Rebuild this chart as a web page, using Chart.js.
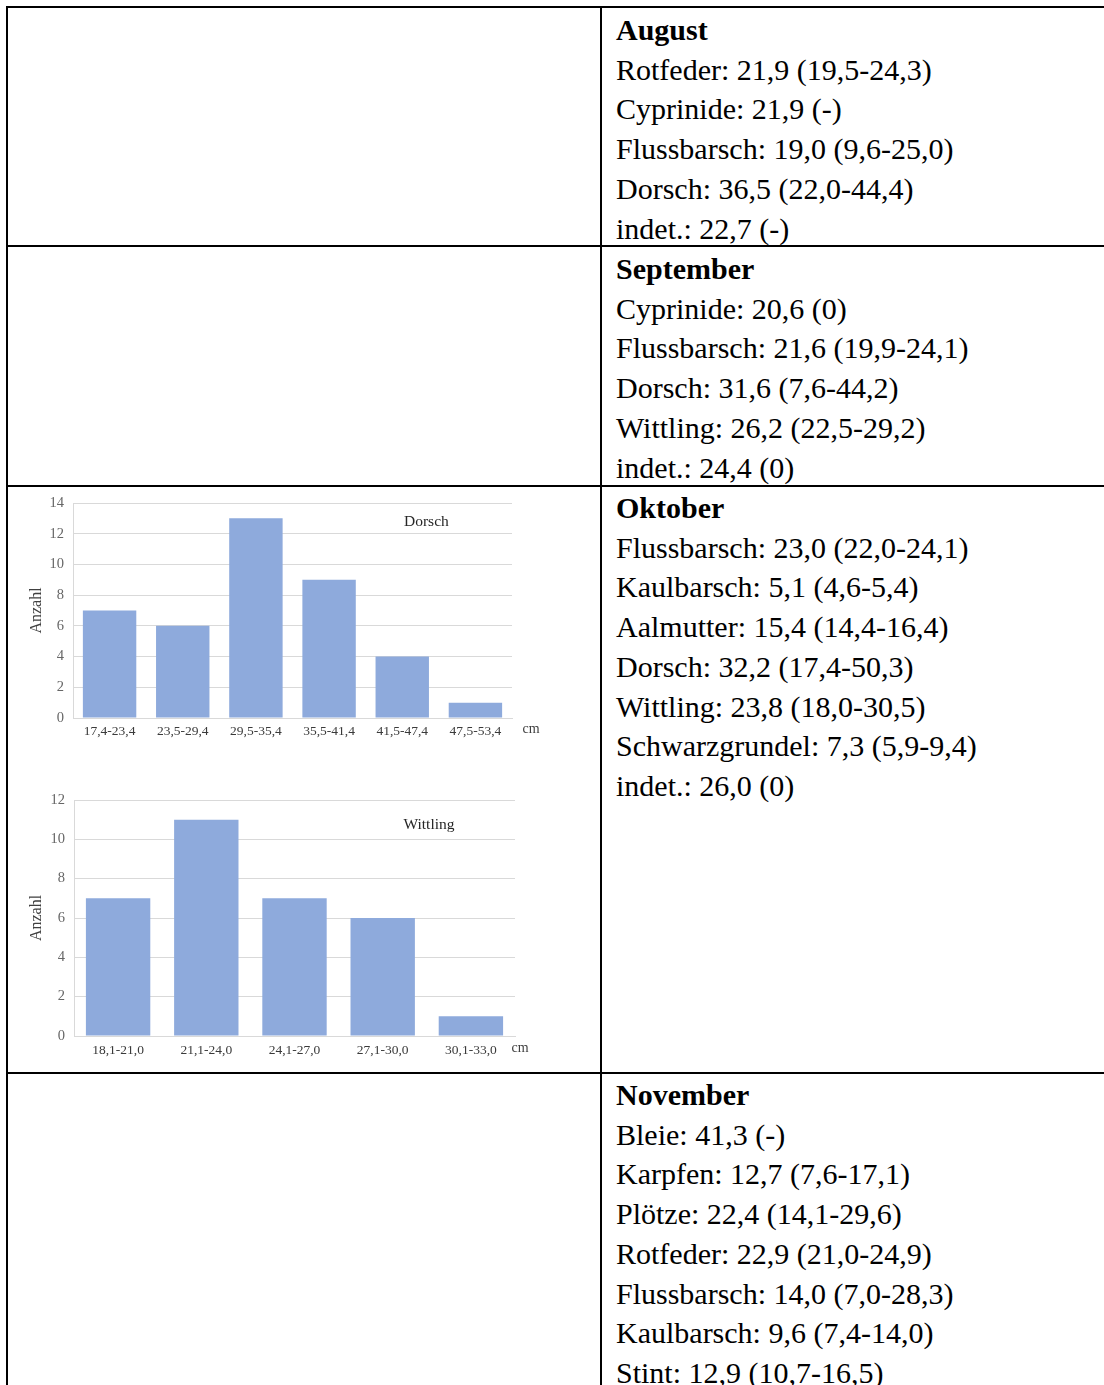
<!DOCTYPE html>
<html><head><meta charset="utf-8">
<script src="https://cdn.jsdelivr.net/npm/chart.js@4/dist/chart.umd.min.js"></script>
<style>
body{margin:0;background:#fff;}
#page{position:relative;width:1104px;height:1385px;overflow:hidden;font-family:"Liberation Serif",serif;color:#000;}
.h{position:absolute;background:#000;height:2px;left:6px;right:0;}
.v{position:absolute;background:#000;width:2px;top:6px;bottom:0;}
.cell{position:absolute;left:616px;font-size:30px;line-height:39.7px;white-space:nowrap;}
.cell b{font-weight:bold;}
canvas{position:absolute;}
</style></head>
<body>
<div id="page">
  <div class="h" style="top:6px"></div>
  <div class="h" style="top:245px"></div>
  <div class="h" style="top:485px"></div>
  <div class="h" style="top:1072px"></div>
  <div class="v" style="left:6px"></div>
  <div class="v" style="left:600px"></div>
  <div class="cell" id="m0" style="top:10px"></div>
  <div class="cell" id="m1" style="top:249px"></div>
  <div class="cell" id="m2" style="top:488px"></div>
  <div class="cell" id="m3" style="top:1075px"></div>
  <canvas id="c1" width="540" height="260" style="left:20px;top:490px"></canvas>
  <canvas id="c2" width="540" height="280" style="left:20px;top:785px"></canvas>
</div>
<script>
// ---- data ----
const dorschLabels = ['17,4-23,4','23,5-29,4','29,5-35,4','35,5-41,4','41,5-47,4','47,5-53,4'];
const dorschCounts = [7, 6, 13, 9, 4, 1];
const dorschTicks = [0, 2, 4, 6, 8, 10, 12, 14];

const wittlingLabels = ['18,1-21,0','21,1-24,0','24,1-27,0','27,1-30,0','30,1-33,0'];
const wittlingCounts = [7, 11, 7, 6, 1];
const wittlingTicks = [0, 2, 4, 6, 8, 10, 12];

const monthTitles = ['August', 'September', 'Oktober', 'November'];
const augustLines = ['Rotfeder: 21,9 (19,5-24,3)','Cyprinide: 21,9 (-)','Flussbarsch: 19,0 (9,6-25,0)','Dorsch: 36,5 (22,0-44,4)','indet.: 22,7 (-)'];
const septemberLines = ['Cyprinide: 20,6 (0)','Flussbarsch: 21,6 (19,9-24,1)','Dorsch: 31,6 (7,6-44,2)','Wittling: 26,2 (22,5-29,2)','indet.: 24,4 (0)'];
const oktoberLines = ['Flussbarsch: 23,0 (22,0-24,1)','Kaulbarsch: 5,1 (4,6-5,4)','Aalmutter: 15,4 (14,4-16,4)','Dorsch: 32,2 (17,4-50,3)','Wittling: 23,8 (18,0-30,5)','Schwarzgrundel: 7,3 (5,9-9,4)','indet.: 26,0 (0)'];
const novemberLines = ['Bleie: 41,3 (-)','Karpfen: 12,7 (7,6-17,1)','Plötze: 22,4 (14,1-29,6)','Rotfeder: 22,9 (21,0-24,9)','Flussbarsch: 14,0 (7,0-28,3)','Kaulbarsch: 9,6 (7,4-14,0)','Stint: 12,9 (10,7-16,5)'];

// ---- table text ----
[augustLines, septemberLines, oktoberLines, novemberLines].forEach((lines, i) => {
  const el = document.getElementById('m' + i);
  const b = document.createElement('b');
  b.textContent = monthTitles[i];
  el.appendChild(b);
  lines.forEach(t => { el.appendChild(document.createElement('br')); el.appendChild(document.createTextNode(t)); });
});

// ---- charts ----
const FONT = '"Liberation Serif", serif';
const labelPlugin = {
  id: 'labels',
  afterDraw(chart, args, opts) {
    const ctx = chart.ctx, a = chart.chartArea;
    ctx.save();
    ctx.font = '15.5px ' + FONT;
    ctx.fillStyle = '#262626';
    ctx.textAlign = 'center';
    ctx.textBaseline = 'middle';
    ctx.fillText(opts.name, a.left + (a.right - a.left) * 0.805, a.top + opts.nameDy);
    ctx.font = '14px ' + FONT;
    ctx.fillStyle = '#404040';
    ctx.fillText('cm', a.right + opts.cmDx, a.bottom + opts.cmDy);
    ctx.restore();
  }
};

function makeChart(id, labels, counts, ticks, name, geo) {
  new Chart(document.getElementById(id), {
    type: 'bar',
    data: { labels: labels, datasets: [{ data: counts, backgroundColor: '#8eaadc', borderWidth: 0,
      categoryPercentage: 1, barPercentage: 0.73 }] },
    plugins: [labelPlugin],
    options: {
      responsive: false, animation: false, devicePixelRatio: 1,
      layout: { padding: { left: 0, top: geo.top, right: geo.right, bottom: 0 } },
      plugins: { legend: { display: false }, tooltip: { enabled: false },
        labels: { name: name, nameDy: geo.nameDy, cmDx: geo.cmDx, cmDy: geo.cmDy } },
      scales: {
        x: {
          grid: { display: false, drawTicks: false },
          border: { display: true, color: '#d9d9d9' },
          ticks: { font: { family: FONT, size: 13.5 }, color: '#3a3a3a', padding: geo.xpad, maxRotation: 0, autoSkip: false },
          afterFit: s => { s.height = geo.xh; s.paddingLeft = 0; s.paddingRight = 0; }
        },
        y: {
          min: 0, max: ticks[ticks.length - 1],
          afterBuildTicks: s => { s.ticks = ticks.map(v => ({ value: v })); },
          grid: { color: '#d9d9d9', lineWidth: 1, drawTicks: false },
          border: { display: true, color: '#d9d9d9' },
          ticks: { font: { family: FONT, size: 14.5 }, color: '#666666', padding: 9 },
          title: { display: true, text: 'Anzahl', font: { family: FONT, size: 16 }, color: '#404040', padding: { top: 7, bottom: 0 } },
          afterFit: s => { s.width = geo.yw; s.paddingTop = 0; s.paddingBottom = 0; }
        }
      }
    }
  });
}

makeChart('c1', dorschLabels, dorschCounts, dorschTicks, 'Dorsch',
  { top: 13, right: 48, yw: 53, xh: 32, xpad: 5, nameDy: 19, cmDx: 19, cmDy: 11 });
makeChart('c2', wittlingLabels, wittlingCounts, wittlingTicks, 'Wittling',
  { top: 15, right: 45, yw: 54, xh: 29, xpad: 6, nameDy: 25, cmDx: 5, cmDy: 12 });
</script>
</body></html>
